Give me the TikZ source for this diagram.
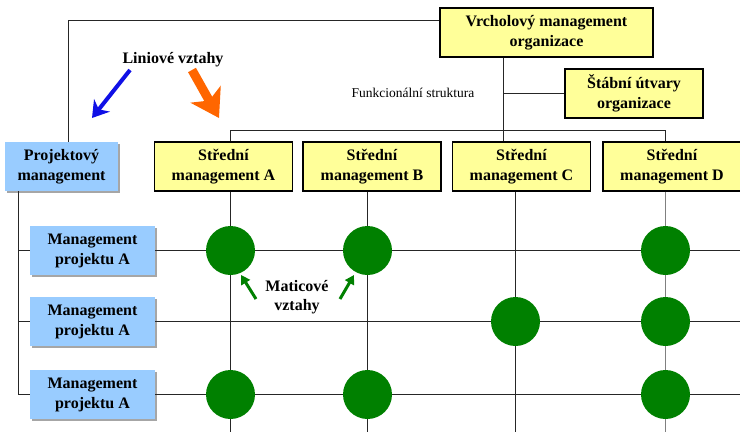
\documentclass[tikz,border=0pt]{standalone}
\usepackage{fontspec}
\setmainfont{Liberation Serif}
\usetikzlibrary{arrows.meta,calc,shadows}
\definecolor{boxyellow}{HTML}{FFFF99}
\definecolor{boxblue}{HTML}{99CCFF}
\definecolor{dotgreen}{HTML}{008000}
\definecolor{arrorange}{HTML}{FF6600}
\definecolor{arrblue}{HTML}{1010E6}
\begin{document}
\begin{tikzpicture}[x=1pt,y=-1pt,
  font=\fontsize{16}{20}\selectfont\bfseries,
  line/.style={line width=1.1pt, draw=black!85},
  ybox/.style={draw=black, line width=1.1pt, fill=boxyellow, minimum width=138pt,
    minimum height=49pt, align=center, inner sep=0pt},
  bbox/.style={fill=boxblue, minimum width=125pt, minimum height=49pt, align=center,
    inner sep=0pt, general shadow={fill=black!35, shadow xshift=2pt, shadow yshift=-2pt}},
  dot/.style={circle, fill=dotgreen, minimum size=49pt, inner sep=0pt},
  lbl/.style={inner sep=0pt, align=center}]
\useasboundingbox (0,0) rectangle (740,432);

% coordinates
\coordinate (cA) at (230.5,432);
\coordinate (cB) at (367.5,432);
\coordinate (cC) at (515.5,432);
\coordinate (cD) at (665.5,432);
\coordinate (bus) at (503.5,130.5);
\coordinate (tl) at (68.5,20.5);
\coordinate (lv) at (18.5,0);
\coordinate (rE) at (740,0);

% boxes
\node[ybox, minimum width=213pt] (top) at (546.5,32.5) {Vrcholový management\\organizace};
\node[ybox] (staff) at (634,93.5) {Štábní útvary\\organizace};
\node[ybox] (a) at (223.5,166.5) {Střední\\management A};
\node[ybox] (b) at (372,166.5) {Střední\\management B};
\node[ybox] (c) at (521.5,166.5) {Střední\\management C};
\node[ybox] (d) at (672,166.5) {Střední\\management D};
\node[bbox, minimum width=113pt] (pm) at (61.5,166.5) {Projektový\\management};
\node[bbox] (p1) at (92.5,250.5) {Management\\projektu A};
\node[bbox] (p2) at (92.5,321.5) {Management\\projektu A};
\node[bbox] (p3) at (92.5,394.5) {Management\\projektu A};

% labels
\node[lbl, font=\fontsize{13.5}{16}\selectfont] (fs) at (413,93) {Funkcionální struktura};
\node[lbl] (lin) at (173,60) {Liniové vztahy};
\node[lbl, font=\fontsize{16}{19}\selectfont\bfseries] (mat) at (297,297) {Maticové\\vztahy};

% connectors
\draw[line] (top.west |- tl) -- (tl) -- (pm.north -| tl);
\draw[line] (top.south -| bus) -- (c.north -| bus);
\draw[line] (staff.west) -- (staff.west -| bus);
\draw[line] (a.north -| cA) |- (bus) -| (d.north -| cD);
\draw[line] (b.north -| cB) -- (b.north -| cB |- bus);
\draw[line] (pm.south -| lv) |- (p3.west);
\draw[line] (p1.west -| lv) -- (p1.west);
\draw[line] (p2.west -| lv) -- (p2.west);
\draw[line] (p1.east) -- (p1.east -| rE);
\draw[line] (p2.east) -- (p2.east -| rE);
\draw[line] (p3.east) -- (p3.east -| rE);
\draw[line] (a.south -| cA) -- (cA);
\draw[line] (b.south -| cB) -- (cB);
\draw[line] (c.south -| cC) -- (cC);
\draw[line, draw=black!50] (d.south -| cD) -- (cD);

% matrix dots
\node[dot] (d1a) at (cA |- p1) {};
\node[dot] (d1b) at (cB |- p1) {};
\node[dot] (d1d) at (cD |- p1) {};
\node[dot] (d2c) at (cC |- p2) {};
\node[dot] (d2d) at (cD |- p2) {};
\node[dot] (d3a) at (cA |- p3) {};
\node[dot] (d3b) at (cB |- p3) {};
\node[dot] (d3d) at (cD |- p3) {};

% arrows
\coordinate (ba1) at (130,70);
\coordinate (ba2) at (92,118);
\coordinate (oa1) at (192,70);
\coordinate (oa2) at (219,118);
\draw[arrblue, line width=4pt, -{Stealth[length=16pt,width=20pt,inset=5pt]}] (ba1) -- (ba2);
\draw[arrorange, line width=9pt, -{Stealth[length=27pt,width=34pt,inset=7pt]}] (oa1) -- (oa2);
\coordinate (ga1) at (256,299);
\coordinate (ga2) at (241,275);
\coordinate (gb1) at (340,299);
\coordinate (gb2) at (354,275);
\draw[dotgreen, line width=3pt, -{Triangle[length=9pt,width=10pt]}] (ga1) -- (ga2);
\draw[dotgreen, line width=3pt, -{Triangle[length=9pt,width=10pt]}] (gb1) -- (gb2);
\end{tikzpicture}
\end{document}
